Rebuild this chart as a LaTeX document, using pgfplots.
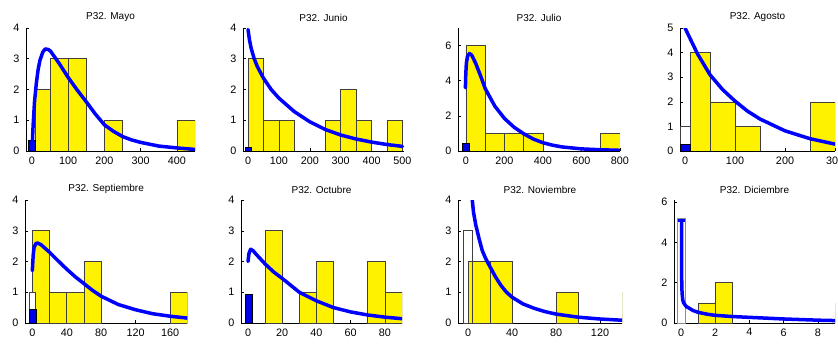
\documentclass[border=0pt]{standalone}
\usepackage{fontspec}
\setmainfont{Liberation Sans}
\usepackage{pgfplots}
\pgfplotsset{compat=1.18}
\pgfplotsset{
  panel/.style={
    scale only axis, height=123pt, anchor=south west,
    axis x line=bottom, axis y line=left,
    axis line style={-, black, line width=0.6pt},
    tick align=inside, major tick length=3pt,
    tick style={black, line width=0.5pt},
    ymin=0, clip=true,
    title style={font=\fontsize{10}{12}\selectfont, at={(0.5,1)}, anchor=south, yshift=-3pt},
    tick label style={font=\fontsize{10.8}{12}\selectfont},
    /pgf/number format/assume math mode=true,
    xticklabel style={yshift=-2pt}, yticklabel style={xshift=-3pt},
  },
  ybars/.style={ybar interval, fill=yellow, draw=black!75, line width=0.6pt, forget plot},
  bbar/.style={ybar interval, fill=blue!90!black, draw=black, line width=0.5pt, forget plot},
  wbar/.style={ybar interval, fill=white, draw=black!75, line width=0.6pt, forget plot},
  wline/.style={ybar interval, fill=none, draw=black!75, line width=0.6pt, forget plot},
  fit/.style={blue, line width=3.5pt, line join=round, line cap=round, mark=none},
}
\begin{document}
\begin{tikzpicture}
\path[use as bounding box] (0,0) rectangle (838pt,343pt);
% ---------- Mayo ----------
\begin{axis}[panel, at={(26pt,192pt)}, width=169pt, xmin=-16.5, xmax=450, ymax=4,
  xtick={0,100,200,300,400}, ytick={0,1,2,3,4}, title={P32. Mayo}]
\addplot[ybars] coordinates {(10,2)(50,3)(100,3)(150,0)};
\addplot[ybars] coordinates {(200,1)(250,0)};
\addplot[ybars] coordinates {(400,1)(450,0)};
\addplot[bbar] coordinates {(-10,0.35)(10,0)};
\addplot[fit] coordinates {(0,0)(3,0.8)(7,1.6)(12,2.2)(17,2.65)(22,2.95)(30,3.22)(37,3.32)(45,3.3)(51,3.25)(60,3.1)(75,2.85)(100,2.39)(125,1.98)(148,1.63)(175,1.2)(200,0.85)(225,0.64)(250,0.47)(275,0.36)(300,0.28)(350,0.16)(400,0.1)(450,0.05)};
\end{axis}
% ---------- Junio ----------
\begin{axis}[panel, at={(243pt,192pt)}, width=161pt, xmin=-16.2, xmax=505, ymax=4,
  xtick={0,100,200,300,400,500}, ytick={0,1,2,3,4}, title={P32. Junio}]
\addplot[ybars] coordinates {(0,3)(50,1)(100,1)(150,0)};
\addplot[ybars] coordinates {(250,1)(300,2)(350,1)(400,0)};
\addplot[ybars] coordinates {(450,1)(500,0)};
\addplot[bbar] coordinates {(-10,0.12)(10,0)};
\addplot[fit] coordinates {(0,3.95)(5,3.6)(10,3.35)(20,3.0)(30,2.75)(50,2.37)(75,2.0)(100,1.72)(150,1.28)(200,0.95)(250,0.7)(300,0.52)(350,0.39)(400,0.29)(450,0.21)(500,0.15)};
\end{axis}
% ---------- Julio ----------
\begin{axis}[panel, at={(458pt,192pt)}, width=162pt, xmin=-41.5, xmax=800, ymax=7,
  xtick={0,200,400,600,800}, ytick={0,2,4,6}, title={P32. Julio}]
\addplot[ybars] coordinates {(0,6)(100,1)(200,1)(300,1)(400,0)};
\addplot[ybars] coordinates {(700,1)(800,0)};
\addplot[bbar] coordinates {(-18,0.42)(18,0)};
\addplot[fit] coordinates {(-3,3.6)(-1,4.4)(2,5.0)(8,5.4)(18,5.55)(30,5.45)(50,5.0)(75,4.3)(100,3.55)(150,2.55)(200,1.85)(250,1.35)(300,0.98)(350,0.68)(400,0.47)(450,0.33)(500,0.23)(600,0.12)(700,0.07)(800,0.04)};
\end{axis}
% ---------- Agosto ----------
\begin{axis}[panel, at={(680pt,192pt)}, width=155pt, xmin=-10, xmax=300, ymax=5,
  xtick={0,100,200,300}, ytick={0,1,2,3,4,5}, title={P32. Agosto}]
\addplot[ybars] coordinates {(10,4)(50,2)(100,1)(150,0)};
\addplot[ybars] coordinates {(250,2)(300,0)};
\addplot[wbar] coordinates {(-10,1)(10,0)};
\addplot[bbar] coordinates {(-10,0.26)(10,0)};
\addplot[fit] coordinates {(0,5.0)(25,3.95)(50,3.1)(75,2.5)(100,2.03)(125,1.62)(150,1.3)(200,0.82)(250,0.5)(300,0.28)};
\end{axis}
% ---------- Septiembre ----------
\begin{axis}[panel, at={(25pt,20pt)}, width=162.3pt, xmin=-8.5, xmax=180, ymax=4,
  xtick={0,40,80,120,160}, ytick={0,1,2,3,4}, title={P32. Septiembre}]
\addplot[ybars] coordinates {(0,3)(20,1)(40,1)(60,2)(80,0)};
\addplot[ybars] coordinates {(160,1)(180,0)};
\addplot[wbar] coordinates {(-4,1)(4,0)};
\addplot[bbar] coordinates {(-4,0.45)(4,0)};
\addplot[fit] coordinates {(0,1.7)(1,2.2)(2,2.45)(4,2.58)(6,2.6)(10,2.55)(20,2.3)(30,2.02)(40,1.75)(50,1.5)(60,1.28)(70,1.06)(80,0.87)(100,0.6)(120,0.43)(140,0.3)(160,0.22)(180,0.16)};
\end{axis}
% ---------- Octubre ----------
\begin{axis}[panel, at={(241pt,20pt)}, width=161pt, xmin=-4.1, xmax=90, ymax=4,
  xtick={0,20,40,60,80}, ytick={0,1,2,3,4}, title={P32. Octubre}]
\addplot[ybars] coordinates {(10,3)(20,0)};
\addplot[ybars] coordinates {(30,1)(40,2)(50,0)};
\addplot[ybars] coordinates {(70,2)(80,1)(90,0)};
\addplot[bbar] coordinates {(-1.5,0.95)(2.5,0)};
\addplot[fit] coordinates {(0,2.0)(0.5,2.25)(1.5,2.4)(3,2.35)(5,2.22)(10,1.92)(15,1.66)(20,1.45)(30,1.0)(40,0.72)(50,0.5)(60,0.36)(70,0.26)(80,0.19)(90,0.14)};
\end{axis}
% ---------- Noviembre ----------
\begin{axis}[panel, at={(458pt,20pt)}, width=164pt, xmin=-9.1, xmax=140, ymax=4,
  xtick={0,40,80,120}, ytick={0,1,2,3,4}, title={P32. Noviembre}]
\addplot[wbar] coordinates {(-4,3)(4,0)};
\addplot[ybars] coordinates {(0.5,2)(20,2)(40,0)};
\addplot[ybars] coordinates {(80,1)(100,0)};
\addplot[ybars] coordinates {(140,1)(160,0)};
\addplot[wline] coordinates {(-4,3)(4,0)};
\addplot[fit] coordinates {(3.6,4.1)(5,3.6)(7,3.2)(10,2.75)(13,2.35)(16,2.1)(20,1.83)(25,1.5)(30,1.22)(35,1.0)(40,0.84)(50,0.62)(60,0.48)(70,0.37)(80,0.29)(100,0.19)(120,0.13)(140,0.09)};
\end{axis}
% ---------- Diciembre ----------
\begin{axis}[panel, at={(674pt,20pt)}, width=161pt, xmin=-0.41, xmax=9, ymax=6.1,
  xtick={0,2,4,6,8}, ytick={0,2,4,6}, title={P32. Diciembre}]
\addplot[ybars] coordinates {(1,1)(2,2)(3,0)};
\addplot[ybars] coordinates {(9,1)(10,0)};
\addplot[ybar interval, fill=white, draw=black!45, line width=0.8pt, forget plot] coordinates {(-0.2,5.2)(0.25,0)};
\addplot[fit, line cap=butt] coordinates {(-0.2,5.08)(0.25,5.08)};
\addplot[fit] coordinates {(0.03,5.08)(0.03,2.5)(0.06,1.5)(0.1,1.15)(0.15,1.0)(0.3,0.82)(0.45,0.75)(0.7,0.62)(1,0.53)(1.5,0.44)(2,0.38)(3,0.32)(4,0.28)(5,0.24)(6,0.2)(7,0.17)(8,0.14)(9,0.12)};
\end{axis}
\end{tikzpicture}
\end{document}
